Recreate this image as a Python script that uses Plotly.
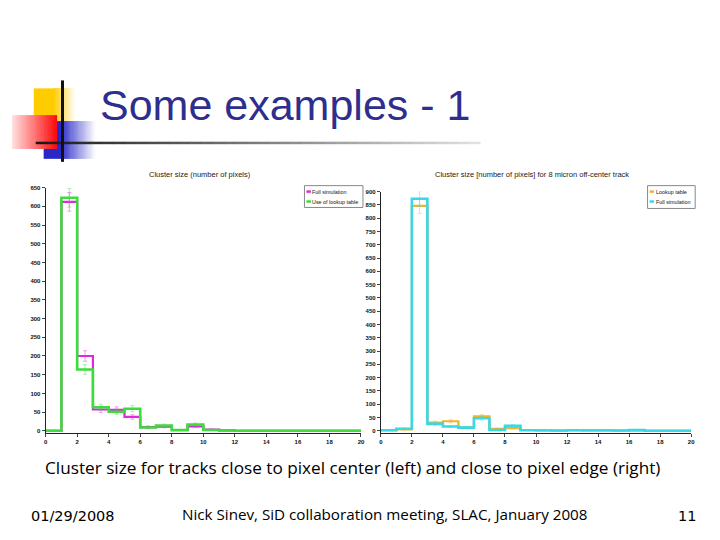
import plotly.graph_objects as go

# ---------------- data ----------------
bin_edges = list(range(0, 21))
x_ticks = list(range(0, 21, 2))

# Left panel: cluster size, track close to pixel centre
left_full_sim = [0, 612, 200, 57, 56, 37, 10, 11, 2, 12, 3, 1, 0, 0, 0, 0, 0, 0, 0, 0]
left_lookup = [0, 623, 164, 63, 51, 59, 9, 14, 2, 17, 2, 1, 0, 0, 0, 0, 0, 0, 0, 0]
left_full_sim_err = [0, 25, 14, 8, 8, 6, 3, 3, 1, 3, 2, 1, 0, 0, 0, 0, 0, 0, 0, 0]
left_lookup_err = [0, 25, 13, 8, 7, 8, 3, 4, 1, 4, 1, 1, 0, 0, 0, 0, 0, 0, 0, 0]

# Right panel: 8 micron off-centre track
right_lookup = [2, 5, 846, 31, 36, 13, 54, 7, 10, 3, 3, 1, 2, 3, 3, 1, 1, 0, 0, 0]
right_full_sim = [2, 8, 873, 26, 16, 12, 47, 3, 19, 2, 1, 1, 2, 1, 1, 1, 3, 0, 0, 0]
right_lookup_err = [1, 2, 29, 6, 6, 4, 7, 3, 3, 2, 2, 1, 1, 2, 2, 1, 1, 0, 0, 0]
right_full_sim_err = [1, 3, 29, 5, 4, 3, 7, 2, 4, 1, 1, 1, 1, 1, 1, 1, 2, 0, 0, 0]

left_title = "Cluster size (number of pixels)"
right_title = "Cluster size [number of pixels] for 8 micron off-center track"
left_names = ["Full simulation", "Use of lookup table"]
right_names = ["Lookup table", "Full simulation"]

slide_title = "Some examples - 1"
caption = "Cluster size for tracks close to pixel center (left) and close to pixel edge (right)"
footer_date = "01/29/2008"
footer_center = "Nick Sinev, SiD collaboration meeting, SLAC, January 2008"
footer_page = "11"

MAGENTA = "#E028E0"
GREEN = "#3CDC3C"
ORANGE = "#F0B428"
CYAN = "#38D8E8"

W, H = 720, 540


def px(x):
    return x / W


def py(y):
    return 1 - y / H


fig = go.Figure()

centers = [e + 0.5 for e in bin_edges[:-1]]


def step(vals):
    return vals + [vals[-1]]


def add_hist(vals, errs, color, width, xa, ya):
    fig.add_trace(go.Scatter(
        x=centers, y=vals, mode="markers", marker=dict(size=1, color="rgba(0,0,0,0)"),
        error_y=dict(type="data", array=errs, color=color, thickness=1, width=2),
        opacity=0.45, xaxis=xa, yaxis=ya, showlegend=False, hoverinfo="skip"))
    fig.add_trace(go.Scatter(
        x=bin_edges, y=step(vals), mode="lines", line=dict(shape="hv", color=color, width=width),
        xaxis=xa, yaxis=ya, showlegend=False))


add_hist(left_full_sim, left_full_sim_err, MAGENTA, 2.2, "x", "y")
add_hist(left_lookup, left_lookup_err, GREEN, 2.6, "x", "y")
add_hist(right_lookup, right_lookup_err, ORANGE, 2.2, "x2", "y2")
add_hist(right_full_sim, right_full_sim_err, CYAN, 2.6, "x2", "y2")

# axis geometry (pixel positions)
L_top_val, L_top_px = 650, 186
R_top_val, R_top_px = 900, 190
zero_px = 431
L_lo = -5
R_lo = -7
L_bot_px = zero_px - L_lo * (zero_px - L_top_px) / L_top_val
R_bot_px = zero_px - R_lo * (zero_px - R_top_px) / R_top_val

tickfont = dict(size=6, family="Liberation Sans", color="#111", weight="bold")
common_x = dict(range=[0, 20], tickvals=x_ticks, ticks="outside", ticklen=3, tickwidth=1,
                showline=True, linecolor="#222", linewidth=1, showgrid=False, zeroline=False,
                tickfont=tickfont, fixedrange=True)
common_y = dict(ticks="outside", ticklen=3, tickwidth=1, dtick=50,
                showline=True, linecolor="#222", linewidth=1, showgrid=False, zeroline=False,
                tickfont=tickfont, fixedrange=True)

fig.update_layout(
    width=W, height=H, margin=dict(l=0, r=0, t=0, b=0),
    paper_bgcolor="white", plot_bgcolor="white", showlegend=False,
    xaxis=dict(domain=[px(44), px(362)], anchor="y", **common_x),
    yaxis=dict(domain=[py(L_bot_px), py(L_top_px)], range=[L_lo, L_top_val], anchor="x", **common_y),
    xaxis2=dict(domain=[px(382), px(695)], anchor="y2", **common_x),
    yaxis2=dict(domain=[py(R_bot_px), py(R_top_px)], range=[R_lo, R_top_val], anchor="x2", **common_y),
)

shapes = []
annotations = []


# ---- slide decoration ----
def mix(rgb, a):
    r, g, b = rgb
    return "rgb(%d,%d,%d)" % (round(255 + (r - 255) * a), round(255 + (g - 255) * a), round(255 + (b - 255) * a))


def grad_rect(x0, x1, y0, y1, rgb, a0, a1, n=40, fade_start=None):
    fs = x0 if fade_start is None else fade_start
    if fs > x0:
        shapes.append(dict(type="rect", xref="paper", yref="paper", x0=px(x0), x1=px(fs + 0.5),
                           y0=py(y1), y1=py(y0), fillcolor=mix(rgb, a0), line_width=0, layer="below"))
    step_w = (x1 - fs) / n
    for i in range(n):
        a = a0 + (a1 - a0) * (i + 0.5) / n
        shapes.append(dict(type="rect", xref="paper", yref="paper",
                           x0=px(fs + i * step_w), x1=px(fs + (i + 1) * step_w + 0.6),
                           y0=py(y1), y1=py(y0), fillcolor=mix(rgb, a), line_width=0, layer="below"))


grad_rect(32, 74, 86, 120, (255, 204, 0), 1.0, 0.0, fade_start=52)
grad_rect(42, 94, 119, 157, (40, 40, 200), 1.0, 0.0, fade_start=58)
grad_rect(10, 55, 113, 147, (255, 10, 10), 0.12, 1.0)

# horizontal rule with fade
n_seg = 40
for i in range(n_seg):
    x0 = 34 + i * (482 - 34) / n_seg
    x1 = 34 + (i + 1) * (482 - 34) / n_seg + 0.5
    g = int(25 + 205 * i / n_seg)
    shapes.append(dict(type="line", xref="paper", yref="paper", x0=px(x0), x1=px(x1),
                       y0=py(141), y1=py(141), line=dict(color=f"rgb({g},{g},{g})", width=2.5)))
shapes.append(dict(type="line", xref="paper", yref="paper", x0=px(61), x1=px(61),
                   y0=py(78), y1=py(160), line=dict(color="#111", width=3)))

annotations.append(dict(text=slide_title, xref="paper", yref="paper", x=px(97), y=py(103),
                        xanchor="left", yanchor="middle", showarrow=False,
                        font=dict(family="Liberation Sans", size=43, color="#2E2E8E")))

# ---- subplot titles ----
annotations.append(dict(text=left_title, xref="paper", yref="paper", x=px(200), y=py(173),
                        xanchor="center", yanchor="middle", showarrow=False,
                        font=dict(family="Liberation Sans", size=7.5, color="#222")))
annotations.append(dict(text=right_title, xref="paper", yref="paper", x=px(534), y=py(173),
                        xanchor="center", yanchor="middle", showarrow=False,
                        font=dict(family="Liberation Sans", size=7.5, color="#222")))


# ---- manual legends ----
def legend(x0, x1, y0, y1, names, colors):
    shapes.append(dict(type="rect", xref="paper", yref="paper", x0=px(x0), x1=px(x1),
                       y0=py(y1), y1=py(y0), line=dict(color="#888", width=1), fillcolor="white"))
    for k, (nm, c) in enumerate(zip(names, colors)):
        yy = y0 + 6 + k * 10
        shapes.append(dict(type="line", xref="paper", yref="paper", x0=px(x0 + 2), x1=px(x0 + 6.5),
                           y0=py(yy), y1=py(yy), line=dict(color=c, width=2.5)))
        annotations.append(dict(text=nm, xref="paper", yref="paper", x=px(x0 + 6), y=py(yy),
                                xanchor="left", yanchor="middle", showarrow=False,
                                font=dict(family="Liberation Sans", size=5.4, color="#111")))


legend(305, 364, 184, 206, left_names, [MAGENTA, GREEN])
legend(651, 699, 184, 207, right_names, [ORANGE, CYAN])

# ---- caption & footer ----
annotations.append(dict(text=caption, xref="paper", yref="paper", x=px(353), y=py(468),
                        xanchor="center", yanchor="middle", showarrow=False,
                        font=dict(family="Open Sans", size=17.2, color="black")))
annotations.append(dict(text=footer_date, xref="paper", yref="paper", x=px(27), y=py(517),
                        xanchor="left", yanchor="middle", showarrow=False,
                        font=dict(family="DejaVu Sans", size=14.5, color="black")))
annotations.append(dict(text=footer_center, xref="paper", yref="paper", x=px(386), y=py(515),
                        xanchor="center", yanchor="middle", showarrow=False,
                        font=dict(family="Open Sans", size=15.2, color="black")))
annotations.append(dict(text=footer_page, xref="paper", yref="paper", x=px(702), y=py(517),
                        xanchor="right", yanchor="middle", showarrow=False,
                        font=dict(family="DejaVu Sans", size=14.5, color="black")))

fig.update_layout(shapes=shapes, annotations=annotations)

fig.write_html("out.html", config={"displayModeBar": False},
               post_script="document.body.style.margin='0';document.body.style.overflow='hidden';")
